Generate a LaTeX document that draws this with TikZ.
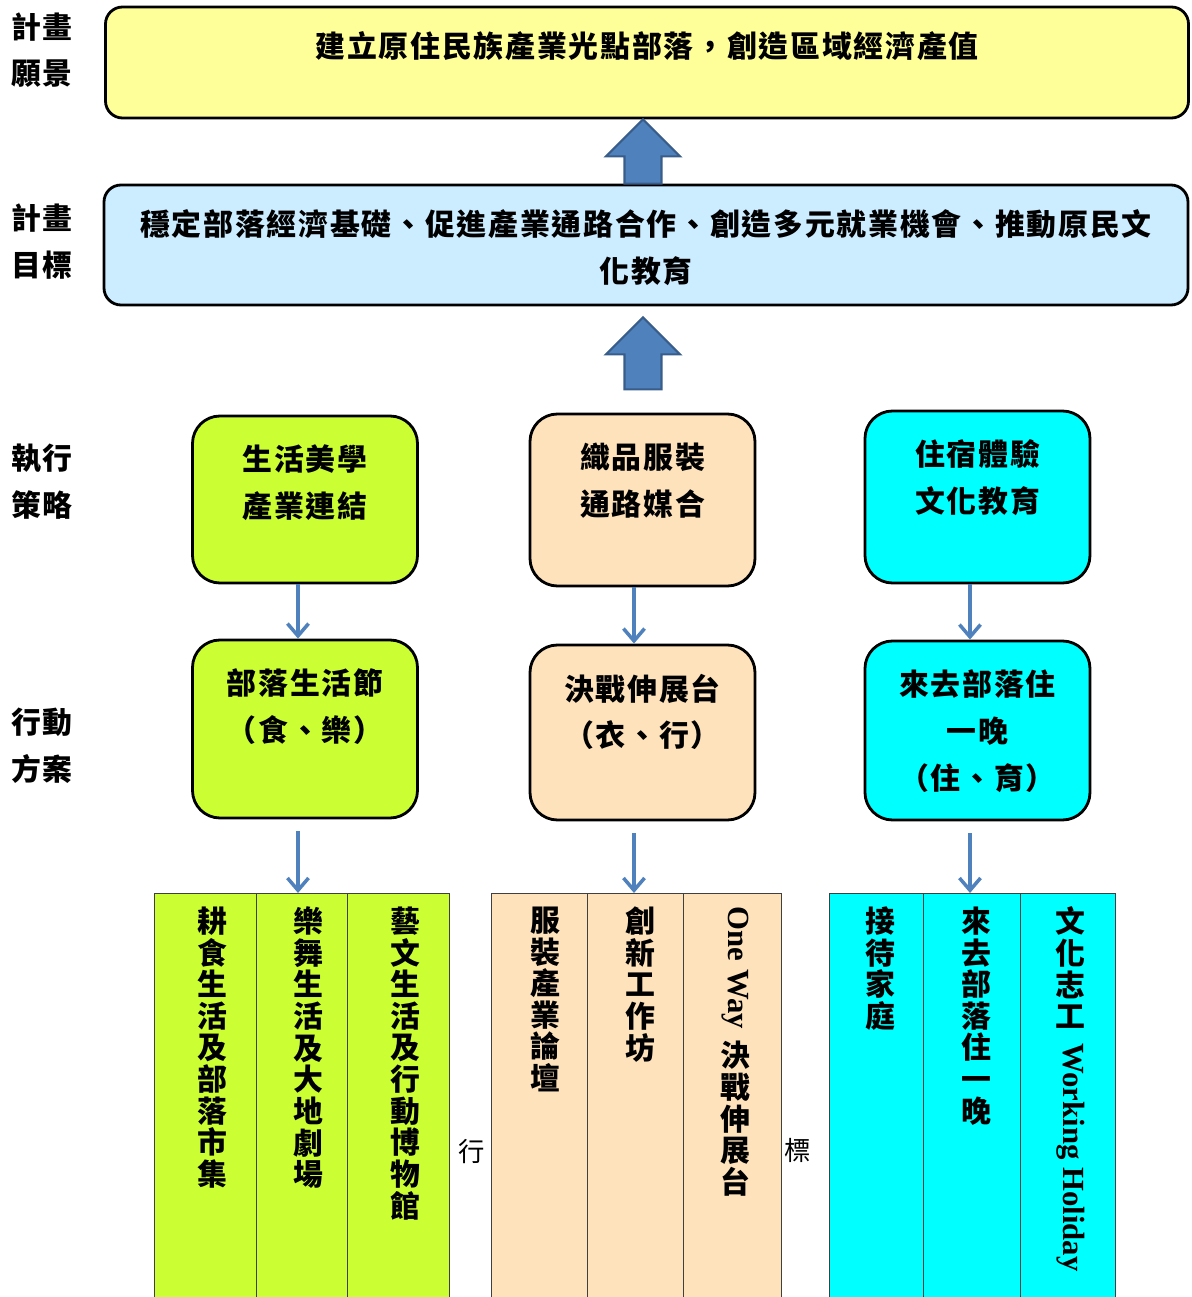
\documentclass[tikz,border=0pt]{standalone}
\usepackage{fontspec}
\usepackage{graphicx}
\usepackage{xcolor}
\usetikzlibrary{positioning, arrows.meta, calc}
\newfontfamily\cjk{Noto Sans CJK TC}[LetterSpace=6]
\newfontfamily\cjkplain{Noto Sans CJK TC}
\newfontfamily\latinb{Liberation Serif}[UprightFont={* Bold}, BoldFont={* Bold}]
\definecolor{visioncolor}{RGB}{255,255,153}
\definecolor{goalcolor}{RGB}{204,236,255}
\definecolor{lifecolor}{RGB}{204,255,51}
\definecolor{weavecolor}{RGB}{253,226,188}
\definecolor{staycolor}{RGB}{0,255,255}
\definecolor{arrowcolor}{RGB}{79,129,189}
\definecolor{arrowedge}{RGB}{56,93,138}
\tikzset{
    labeltxt/.style={font=\cjk\bfseries\fontsize{17}{26.6}\selectfont,
        align=center, inner sep=0pt},
    boxtxt/.style={labeltxt, anchor=north},
    basebox/.style={rectangle, draw=black, line width=1.6pt, inner sep=0pt},
    bigbox/.style={basebox, rounded corners=0.34cm, minimum width=21.66cm},
    stratbox/.style={basebox, rounded corners=0.55cm, minimum width=4.5cm},
    lifebox/.style={stratbox, fill=lifecolor},
    weavebox/.style={stratbox, fill=weavecolor},
    staybox/.style={stratbox, fill=staycolor},
    colbox/.style={rectangle, draw=black!75, line width=0.8pt, inner sep=0pt,
        anchor=north west, minimum height=8.3cm},
    coltxt/.style={font=\cjk\bfseries\fontsize{17}{18}\selectfont,
        align=center, inner sep=0pt, anchor=north},
    flow/.style={-{Straight Barb[length=7pt,width=12pt]}, line width=2pt, arrowcolor},
    bigup/.style={fill=arrowcolor, draw=arrowedge, line width=1.2pt},
    stray/.style={font=\cjkplain\fontsize{15}{18}\selectfont, inner sep=0pt}
}

\begin{document}
\begin{tikzpicture}
\path[use as bounding box] (0,0) rectangle (23.84,25.94);

% Row labels
\node[labeltxt] (lvision) at (0.84, 24.94) {計畫\\願景};
\node[labeltxt] (lgoal) at (0.84, 21.11) {計畫\\目標};
\node[labeltxt] (lstrat) at (0.84, 16.31) {執行\\策略};
\node[labeltxt] (lact) at (0.84, 11.02) {行動\\方案};

% Vision and goal
\node[bigbox, fill=visioncolor, minimum height=2.22cm] (vision) at (12.94, 24.69) {};
\node[boxtxt] (visiontxt) at ([yshift=-0.52cm]vision.north)
    {建立原住民族產業光點部落，創造區域經濟產值};
\node[bigbox, fill=goalcolor, minimum width=21.68cm, minimum height=2.40cm] (goal) at (12.92, 21.04) {};
\node[boxtxt] (goaltxt) at ([yshift=-0.52cm]goal.north)
    {穩定部落經濟基礎、促進產業通路合作、創造多元就業機會、推動原民文\\化教育};

% Block arrows
\coordinate (up1b) at ([xshift=-0.06cm]goal.north);
\coordinate (up1t) at (up1b |- vision.south);
\draw[bigup] ($(up1b)+(-0.37,0)$) -- ($(up1t)+(-0.37,-0.74)$) -- ($(up1t)+(-0.74,-0.74)$)
    -- (up1t) -- ($(up1t)+(0.74,-0.74)$) -- ($(up1t)+(0.37,-0.74)$) -- ($(up1b)+(0.37,0)$) -- cycle;
\coordinate (up2t) at ([xshift=-0.06cm, yshift=-0.22cm]goal.south);
\coordinate (up2b) at ([yshift=-1.44cm]up2t);
\draw[bigup] ($(up2b)+(-0.37,0)$) -- ($(up2t)+(-0.37,-0.74)$) -- ($(up2t)+(-0.74,-0.74)$)
    -- (up2t) -- ($(up2t)+(0.74,-0.74)$) -- ($(up2t)+(0.37,-0.74)$) -- ($(up2b)+(0.37,0)$) -- cycle;

% Strategies
\node[lifebox, minimum height=3.34cm] (strat1) at (6.10, 15.95) {};
\node[boxtxt] (strat1txt) at ([yshift=-0.60cm]strat1.north) {生活美學\\產業連結};
\node[weavebox, minimum height=3.44cm] (strat2) at (12.85, 15.94) {};
\node[boxtxt] (strat2txt) at ([yshift=-0.60cm]strat2.north) {織品服裝\\通路媒合};
\node[staybox, minimum height=3.44cm] (strat3) at (19.55, 16.00) {};
\node[boxtxt] (strat3txt) at ([yshift=-0.60cm]strat3.north) {住宿體驗\\文化教育};

% Actions
\node[lifebox, minimum height=3.56cm] (act1) at (6.10, 11.36) {};
\node[boxtxt] (act1txt) at ([yshift=-0.60cm]act1.north) {部落生活節\\（食、樂）};
\node[weavebox, minimum height=3.50cm] (act2) at (12.85, 11.29) {};
\node[boxtxt] (act2txt) at ([yshift=-0.60cm]act2.north) {決戰伸展台\\（衣、行）};
\node[staybox, minimum height=3.58cm] (act3) at (19.55, 11.33) {};
\node[boxtxt] (act3txt) at ([yshift=-0.60cm]act3.north) {來去部落住\\一晚\\（住、育）};

\draw[flow] ([xshift=-0.14cm]strat1.south) -- ([xshift=-0.14cm]act1.north);
\draw[flow] ([xshift=-0.17cm]strat2.south) -- ([xshift=-0.17cm]act2.north);
\draw[flow] ([xshift=-0.15cm]strat3.south) -- ([xshift=-0.15cm]act3.north);

% Columns
\node[colbox, fill=lifecolor, minimum width=2.04cm] (life1) at (3.08, 8.08) {};
\node[colbox, fill=lifecolor, minimum width=1.82cm] (life2) at (5.12, 8.08) {};
\node[colbox, fill=lifecolor, minimum width=2.04cm] (life3) at (6.94, 8.08) {};
\node[colbox, fill=weavecolor, minimum width=1.92cm] (weave1) at (9.82, 8.08) {};
\node[colbox, fill=weavecolor, minimum width=1.92cm] (weave2) at (11.74, 8.08) {};
\node[colbox, fill=weavecolor, minimum width=1.96cm] (weave3) at (13.66, 8.08) {};
\node[colbox, fill=staycolor, minimum width=1.88cm] (stay1) at (16.58, 8.08) {};
\node[colbox, fill=staycolor, minimum width=1.94cm] (stay2) at (18.46, 8.08) {};
\node[colbox, fill=staycolor, minimum width=1.90cm] (stay3) at (20.40, 8.08) {};

\node[coltxt] (life1txt) at ([xshift=0.13cm, yshift=-0.27cm]life1.north) {耕\\食\\生\\活\\及\\部\\落\\市\\集};
\node[coltxt] (life2txt) at ([xshift=0.13cm, yshift=-0.27cm]life2.north) {樂\\舞\\生\\活\\及\\大\\地\\劇\\場};
\node[coltxt] (life3txt) at ([xshift=0.13cm, yshift=-0.27cm]life3.north) {藝\\文\\生\\活\\及\\行\\動\\博\\物\\館};
\node[coltxt] (weave1txt) at ([xshift=0.12cm, yshift=-0.27cm]weave1.north) {服\\裝\\產\\業\\論\\壇};
\node[coltxt] (weave2txt) at ([xshift=0.1cm, yshift=-0.27cm]weave2.north) {創\\新\\工\\作\\坊};
\node[coltxt] (weave3txt) at ([xshift=0.06cm, yshift=-0.27cm]weave3.north)
    {\latinb\fontsize{17.5}{18}\selectfont\rotatebox{-90}{One Way}\\[6pt]決\\戰\\伸\\展\\台};
\node[coltxt] (stay1txt) at ([xshift=0.08cm, yshift=-0.27cm]stay1.north) {接\\待\\家\\庭};
\node[coltxt] (stay2txt) at ([xshift=0.09cm, yshift=-0.27cm]stay2.north) {來\\去\\部\\落\\住\\一\\晚};
\node[coltxt] (stay3txt) at ([xshift=0.05cm, yshift=-0.27cm]stay3.north)
    {文\\化\\志\\工\\[-9pt]\latinb\fontsize{17.5}{18}\selectfont\rotatebox{-90}{Working Holiday}};

\draw[flow, shorten <=0.24cm] ([xshift=-0.14cm]act1.south) -- ([xshift=-0.14cm]act1.south |- life2.north);
\draw[flow, shorten <=0.24cm] ([xshift=-0.17cm]act2.south) -- ([xshift=-0.17cm]act2.south |- weave2.north);
\draw[flow, shorten <=0.24cm] ([xshift=-0.15cm]act3.south) -- ([xshift=-0.15cm]act3.south |- stay2.north);

% Stray characters
\node[stray] (strayA) at (9.44, 2.90) {行};
\node[stray] (strayB) at (15.96, 2.94) {標};

\end{tikzpicture}
\end{document}
